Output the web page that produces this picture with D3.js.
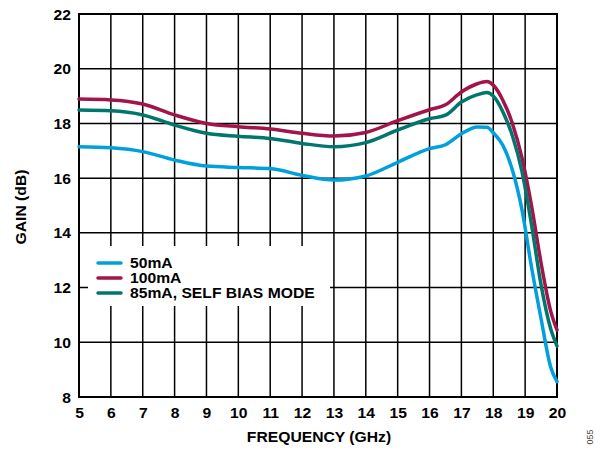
<!DOCTYPE html>
<html>
<head>
<meta charset="utf-8">
<script src="https://cdn.jsdelivr.net/npm/d3@7"></script>
<style>
html,body{margin:0;padding:0;background:#fff;}
svg{display:block;font-family:"Liberation Sans",Arial,sans-serif;}
</style>
</head>
<body>
<svg id="chart" width="600" height="450"></svg>
<script>
// ---- data ----
const freq = [5,6,7,8,9,10,11,12,13,14,15,16,16.5,17,17.5,17.8,18,18.3,18.6,18.9,19.2,19.5,19.8,20];
const gain50 = [17.15,17.11,16.97,16.66,16.44,16.39,16.35,16.1,15.93,16.08,16.58,17.08,17.22,17.62,17.87,17.86,17.66,17.2,16.3,14.85,12.75,10.86,9.1,8.56];
const gain100 = [18.89,18.86,18.71,18.31,18.0,17.88,17.8,17.64,17.54,17.67,18.1,18.5,18.68,19.15,19.45,19.53,19.4,18.85,18.0,16.75,15.0,12.9,11.15,10.45];
const gain85 = [18.49,18.46,18.31,17.94,17.64,17.53,17.45,17.27,17.15,17.3,17.76,18.17,18.3,18.78,19.05,19.13,19.0,18.43,17.55,16.25,14.3,12.1,10.5,9.86];
const seriesNames = ["50mA","100mA","85mA, SELF BIAS MODE"];
const seriesColors = ["#00A0DD","#A3154A","#00766E"];
const xTicks = [5,6,7,8,9,10,11,12,13,14,15,16,17,18,19,20];
const yTicks = [8,10,12,14,16,18,20,22];

const series = [gain50, gain100, gain85];
const FONT = "Liberation Sans, Arial, sans-serif";
const FS = 14, SX = 1.12;

const svg = d3.select("#chart");
const L = 79, R = 557, T = 14, B = 397;
const x = d3.scaleLinear().domain([5,20]).range([L,R]);
const y = d3.scaleLinear().domain([8,22]).range([B,T]);

// grid
const g = svg.append("g");
g.selectAll("line.vx").data(xTicks).join("line")
  .attr("x1",d=>x(d)).attr("x2",d=>x(d)).attr("y1",T).attr("y2",B)
  .attr("stroke","#000").attr("stroke-width",1.5);
g.selectAll("line.hy").data(yTicks).join("line")
  .attr("x1",L).attr("x2",R).attr("y1",d=>y(d)).attr("y2",d=>y(d))
  .attr("stroke","#000").attr("stroke-width",1.5);

// legend background (covers grid)
svg.append("rect").attr("x",88).attr("y",246).attr("width",242).attr("height",60).attr("fill","#fff");

// frame
svg.append("rect").attr("x",L).attr("y",T).attr("width",R-L).attr("height",B-T)
  .attr("fill","none").attr("stroke","#000").attr("stroke-width",2);

// axes labels via d3 axes
const xAxis = d3.axisBottom(x).tickValues(xTicks).tickSize(0).tickPadding(0).tickFormat(d3.format("d"));
const xg = svg.append("g").attr("transform",`translate(0,${B})`).call(xAxis);
xg.select(".domain").remove();
xg.selectAll("text").attr("x",0).attr("y",0).attr("dy",0)
  .attr("transform",`translate(0,21) scale(${SX},1)`)
  .attr("font-size",FS).attr("font-weight","bold")
  .attr("fill","#000").attr("font-family",FONT);

const yAxis = d3.axisLeft(y).tickValues(yTicks).tickSize(0).tickPadding(0).tickFormat(d3.format("d"));
const yg = svg.append("g").attr("transform",`translate(${L},0)`).call(yAxis);
yg.select(".domain").remove();
yg.selectAll("text").attr("x",0).attr("dy","0.36em")
  .attr("transform",`translate(-8,0) scale(${SX},1)`)
  .attr("font-size",FS).attr("font-weight","bold")
  .attr("fill","#000").attr("font-family",FONT);

// lines
const line = d3.line().x((d,i)=>x(freq[i])).y(d=>y(d)).curve(d3.curveMonotoneX);
series.forEach((s,i)=>{
  svg.append("path").datum(s).attr("d",line).attr("fill","none")
    .attr("stroke",seriesColors[i]).attr("stroke-width",3.5).attr("stroke-linejoin","round").attr("stroke-linecap","round");
});

// legend
const lg = svg.append("g");
seriesNames.forEach((n,i)=>{
  const yy = 263 + i*15;
  lg.append("line").attr("x1",98).attr("x2",121).attr("y1",yy).attr("y2",yy)
    .attr("stroke",seriesColors[i]).attr("stroke-width",3.5).attr("stroke-linecap","round");
  lg.append("text").attr("transform",`translate(130,${yy+5}) scale(${SX},1)`).text(n)
    .attr("font-size",FS).attr("font-weight","bold").attr("fill","#000");
});

// axis titles
svg.append("text").attr("transform",`translate(319,442) scale(${SX},1)`).attr("text-anchor","middle")
  .attr("font-size",FS).attr("font-weight","bold").text("FREQUENCY (GHz)");
svg.append("text").attr("transform",`translate(26,207) rotate(-90) scale(${SX},1)`).attr("text-anchor","middle")
  .attr("font-size",FS).attr("font-weight","bold").text("GAIN (dB)");
svg.append("text").attr("transform","translate(593,437) rotate(-90)").attr("text-anchor","middle")
  .attr("font-size",9).attr("fill","#444").text("055");
</script>
</body>
</html>
